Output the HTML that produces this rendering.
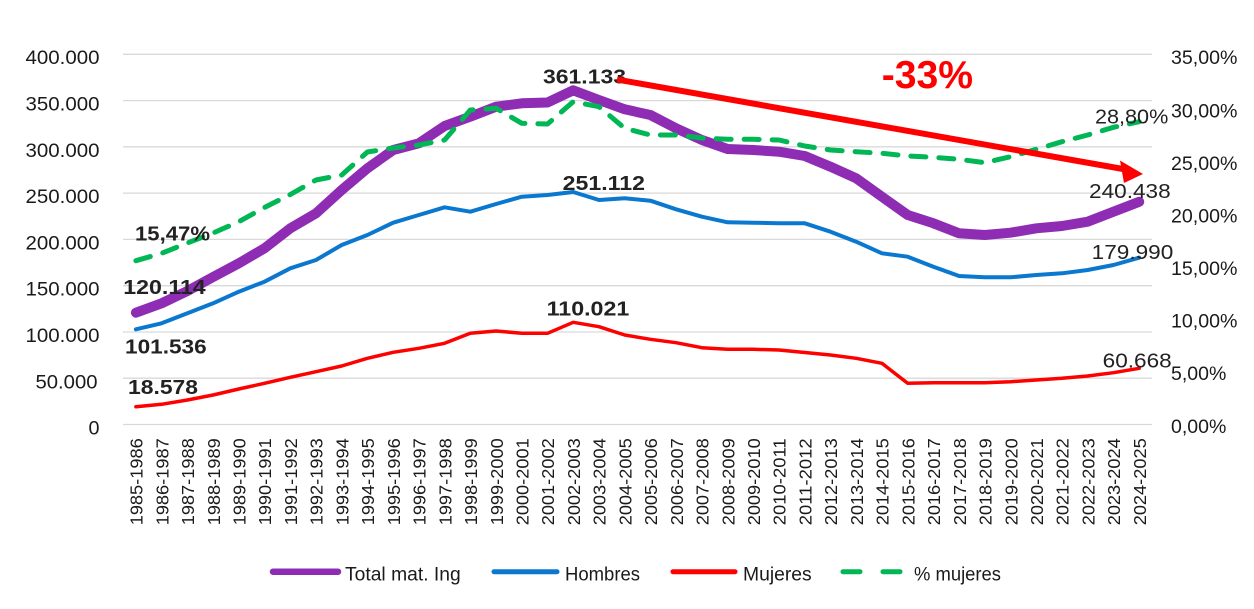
<!DOCTYPE html>
<html><head><meta charset="utf-8"><style>
html,body{margin:0;padding:0;background:#fff;}
svg{display:block;font-family:"Liberation Sans",sans-serif;}
</style></head><body>
<svg width="1254" height="609" viewBox="0 0 1254 609" xmlns="http://www.w3.org/2000/svg">
<rect width="1254" height="609" fill="#fff"/>
<g stroke="#d9d9d9" stroke-width="1.3">
<line x1="123" y1="54.3" x2="1152" y2="54.3"/>
<line x1="123" y1="100.6" x2="1152" y2="100.6"/>
<line x1="123" y1="146.8" x2="1152" y2="146.8"/>
<line x1="123" y1="193.1" x2="1152" y2="193.1"/>
<line x1="123" y1="239.4" x2="1152" y2="239.4"/>
<line x1="123" y1="285.7" x2="1152" y2="285.7"/>
<line x1="123" y1="332" x2="1152" y2="332"/>
<line x1="123" y1="378.2" x2="1152" y2="378.2"/>
<line x1="123" y1="424.5" x2="1152" y2="424.5"/>
</g>
<g font-size="19" fill="#1a1a1a" text-anchor="end">
<text x="99.5" y="64" textLength="74" lengthAdjust="spacingAndGlyphs">400.000</text>
<text x="99.5" y="110.5" textLength="74" lengthAdjust="spacingAndGlyphs">350.000</text>
<text x="99.5" y="157" textLength="74" lengthAdjust="spacingAndGlyphs">300.000</text>
<text x="99.5" y="203" textLength="74" lengthAdjust="spacingAndGlyphs">250.000</text>
<text x="99.5" y="249.5" textLength="74" lengthAdjust="spacingAndGlyphs">200.000</text>
<text x="99.5" y="295.5" textLength="74" lengthAdjust="spacingAndGlyphs">150.000</text>
<text x="99.5" y="342" textLength="74" lengthAdjust="spacingAndGlyphs">100.000</text>
<text x="97.5" y="388.5" textLength="62" lengthAdjust="spacingAndGlyphs">50.000</text>
<text x="99.5" y="434.5" textLength="11" lengthAdjust="spacingAndGlyphs">0</text>
</g>
<g font-size="19" fill="#1a1a1a">
<text x="1171" y="64" textLength="66.5" lengthAdjust="spacingAndGlyphs">35,00%</text>
<text x="1171" y="117.5" textLength="66.5" lengthAdjust="spacingAndGlyphs">30,00%</text>
<text x="1171" y="170" textLength="66.5" lengthAdjust="spacingAndGlyphs">25,00%</text>
<text x="1171" y="222.5" textLength="66.5" lengthAdjust="spacingAndGlyphs">20,00%</text>
<text x="1171" y="275" textLength="66.5" lengthAdjust="spacingAndGlyphs">15,00%</text>
<text x="1171" y="327.5" textLength="66.5" lengthAdjust="spacingAndGlyphs">10,00%</text>
<text x="1171" y="380" textLength="55.3" lengthAdjust="spacingAndGlyphs">5,00%</text>
<text x="1171" y="433" textLength="55.3" lengthAdjust="spacingAndGlyphs">0,00%</text>
</g>
<g font-size="17.5" fill="#1a1a1a" text-anchor="end">
<text transform="translate(142.6,438.3) rotate(-90)" textLength="87" lengthAdjust="spacingAndGlyphs">1985-1986</text>
<text transform="translate(168.3,438.3) rotate(-90)" textLength="87" lengthAdjust="spacingAndGlyphs">1986-1987</text>
<text transform="translate(194.1,438.3) rotate(-90)" textLength="87" lengthAdjust="spacingAndGlyphs">1987-1988</text>
<text transform="translate(219.8,438.3) rotate(-90)" textLength="87" lengthAdjust="spacingAndGlyphs">1988-1989</text>
<text transform="translate(245.5,438.3) rotate(-90)" textLength="87" lengthAdjust="spacingAndGlyphs">1989-1990</text>
<text transform="translate(271.2,438.3) rotate(-90)" textLength="87" lengthAdjust="spacingAndGlyphs">1990-1991</text>
<text transform="translate(297.0,438.3) rotate(-90)" textLength="87" lengthAdjust="spacingAndGlyphs">1991-1992</text>
<text transform="translate(322.7,438.3) rotate(-90)" textLength="87" lengthAdjust="spacingAndGlyphs">1992-1993</text>
<text transform="translate(348.4,438.3) rotate(-90)" textLength="87" lengthAdjust="spacingAndGlyphs">1993-1994</text>
<text transform="translate(374.1,438.3) rotate(-90)" textLength="87" lengthAdjust="spacingAndGlyphs">1994-1995</text>
<text transform="translate(399.9,438.3) rotate(-90)" textLength="87" lengthAdjust="spacingAndGlyphs">1995-1996</text>
<text transform="translate(425.6,438.3) rotate(-90)" textLength="87" lengthAdjust="spacingAndGlyphs">1996-1997</text>
<text transform="translate(451.3,438.3) rotate(-90)" textLength="87" lengthAdjust="spacingAndGlyphs">1997-1998</text>
<text transform="translate(477.0,438.3) rotate(-90)" textLength="87" lengthAdjust="spacingAndGlyphs">1998-1999</text>
<text transform="translate(502.8,438.3) rotate(-90)" textLength="87" lengthAdjust="spacingAndGlyphs">1999-2000</text>
<text transform="translate(528.5,438.3) rotate(-90)" textLength="87" lengthAdjust="spacingAndGlyphs">2000-2001</text>
<text transform="translate(554.2,438.3) rotate(-90)" textLength="87" lengthAdjust="spacingAndGlyphs">2001-2002</text>
<text transform="translate(579.9,438.3) rotate(-90)" textLength="87" lengthAdjust="spacingAndGlyphs">2002-2003</text>
<text transform="translate(605.7,438.3) rotate(-90)" textLength="87" lengthAdjust="spacingAndGlyphs">2003-2004</text>
<text transform="translate(631.4,438.3) rotate(-90)" textLength="87" lengthAdjust="spacingAndGlyphs">2004-2005</text>
<text transform="translate(657.1,438.3) rotate(-90)" textLength="87" lengthAdjust="spacingAndGlyphs">2005-2006</text>
<text transform="translate(682.8,438.3) rotate(-90)" textLength="87" lengthAdjust="spacingAndGlyphs">2006-2007</text>
<text transform="translate(708.6,438.3) rotate(-90)" textLength="87" lengthAdjust="spacingAndGlyphs">2007-2008</text>
<text transform="translate(734.3,438.3) rotate(-90)" textLength="87" lengthAdjust="spacingAndGlyphs">2008-2009</text>
<text transform="translate(760.0,438.3) rotate(-90)" textLength="87" lengthAdjust="spacingAndGlyphs">2009-2010</text>
<text transform="translate(785.7,438.3) rotate(-90)" textLength="87" lengthAdjust="spacingAndGlyphs">2010-2011</text>
<text transform="translate(811.5,438.3) rotate(-90)" textLength="87" lengthAdjust="spacingAndGlyphs">2011-2012</text>
<text transform="translate(837.2,438.3) rotate(-90)" textLength="87" lengthAdjust="spacingAndGlyphs">2012-2013</text>
<text transform="translate(862.9,438.3) rotate(-90)" textLength="87" lengthAdjust="spacingAndGlyphs">2013-2014</text>
<text transform="translate(888.6,438.3) rotate(-90)" textLength="87" lengthAdjust="spacingAndGlyphs">2014-2015</text>
<text transform="translate(914.4,438.3) rotate(-90)" textLength="87" lengthAdjust="spacingAndGlyphs">2015-2016</text>
<text transform="translate(940.1,438.3) rotate(-90)" textLength="87" lengthAdjust="spacingAndGlyphs">2016-2017</text>
<text transform="translate(965.8,438.3) rotate(-90)" textLength="87" lengthAdjust="spacingAndGlyphs">2017-2018</text>
<text transform="translate(991.5,438.3) rotate(-90)" textLength="87" lengthAdjust="spacingAndGlyphs">2018-2019</text>
<text transform="translate(1017.3,438.3) rotate(-90)" textLength="87" lengthAdjust="spacingAndGlyphs">2019-2020</text>
<text transform="translate(1043.0,438.3) rotate(-90)" textLength="87" lengthAdjust="spacingAndGlyphs">2020-2021</text>
<text transform="translate(1068.7,438.3) rotate(-90)" textLength="87" lengthAdjust="spacingAndGlyphs">2021-2022</text>
<text transform="translate(1094.4,438.3) rotate(-90)" textLength="87" lengthAdjust="spacingAndGlyphs">2022-2023</text>
<text transform="translate(1120.2,438.3) rotate(-90)" textLength="87" lengthAdjust="spacingAndGlyphs">2023-2024</text>
<text transform="translate(1145.9,438.3) rotate(-90)" textLength="87" lengthAdjust="spacingAndGlyphs">2024-2025</text>
</g>
<g fill="none" stroke-linejoin="round" stroke-linecap="round">
<polyline stroke="#8E2DB4" stroke-width="10" points="135.9,312.7 161.6,303.3 187.4,291 213.1,277 238.8,263.3 264.5,248.3 290.3,228.3 316,213.3 341.7,190 367.4,168.3 393.2,150 418.9,143.3 444.6,126 470.3,116.7 496.1,106.7 521.8,103.3 547.5,102.5 573.2,90.3 599,100 624.7,109.3 650.4,115 676.1,128.3 701.9,140 727.6,149 753.3,150 779,151.7 804.8,156 830.5,166.7 856.2,178.3 881.9,196.7 907.7,215 933.4,223.3 959.1,233.3 984.8,235 1010.6,232.7 1036.3,228.3 1062,226 1087.7,221.7 1113.5,211.7 1139.2,201.8"/>
<polyline stroke="#0B78CF" stroke-width="4" points="135.9,329.3 161.6,323.3 187.4,313.3 213.1,303.3 238.8,291.7 264.5,281.7 290.3,268.3 316,260 341.7,245 367.4,235 393.2,222.7 418.9,215 444.6,207.3 470.3,211.7 496.1,204 521.8,196.7 547.5,195 573.2,192 599,200 624.7,198.3 650.4,200.7 676.1,209.3 701.9,216.7 727.6,222.3 753.3,222.7 779,223.3 804.8,223.3 830.5,231.7 856.2,241.7 881.9,253.3 907.7,256.7 933.4,266.7 959.1,276 984.8,277.3 1010.6,277.3 1036.3,275 1062,273.3 1087.7,270 1113.5,265 1139.2,257.7"/>
<polyline stroke="#FF0000" stroke-width="3.5" points="135.9,406.7 161.6,404.3 187.4,400 213.1,395 238.8,389 264.5,383.3 290.3,377.3 316,371.7 341.7,366 367.4,358.3 393.2,352.3 418.9,348.3 444.6,343.3 470.3,333.3 496.1,331 521.8,333.3 547.5,333.3 573.2,322.3 599,326.7 624.7,335 650.4,339.3 676.1,342.7 701.9,347.7 727.6,349.3 753.3,349.3 779,350 804.8,352.5 830.5,355 856.2,358.3 881.9,363.3 907.7,383.3 933.4,382.7 959.1,382.7 984.8,382.7 1010.6,381.7 1036.3,380 1062,378.3 1087.7,376 1113.5,372.7 1139.2,368.3"/>
<polyline stroke="#00B655" stroke-width="5" stroke-dasharray="15 13" points="135.9,260.7 161.6,253.3 187.4,243 213.1,233 238.8,221.7 264.5,207.5 290.3,194.5 316,180 341.7,175 367.4,152 393.2,148 418.9,145 444.6,140 470.3,110 496.1,108.3 521.8,123.3 547.5,124 573.2,101.7 599,106.7 624.7,128.3 650.4,135 676.1,135 701.9,138 727.6,139.3 753.3,139.3 779,140 804.8,146 830.5,150 856.2,151.7 881.9,153.3 907.7,156 933.4,157.3 959.1,159.3 984.8,162.7 1010.6,156.7 1036.3,149.3 1062,141.7 1087.7,135 1113.5,127.3 1139.2,121.7"/>
</g>
<g font-size="20" fill="#222" font-weight="bold">
<text x="135" y="240.5" textLength="75" lengthAdjust="spacingAndGlyphs">15,47%</text>
<text x="123.3" y="294" textLength="82.4" lengthAdjust="spacingAndGlyphs">120.114</text>
<text x="125" y="353.3" textLength="81.7" lengthAdjust="spacingAndGlyphs">101.536</text>
<text x="128" y="394" textLength="70" lengthAdjust="spacingAndGlyphs">18.578</text>
<text x="543" y="83.3" textLength="83" lengthAdjust="spacingAndGlyphs">361.133</text>
<text x="562.7" y="190" textLength="82.3" lengthAdjust="spacingAndGlyphs">251.112</text>
<text x="546.7" y="315.6" textLength="82.6" lengthAdjust="spacingAndGlyphs">110.021</text>
</g>
<g font-size="20" fill="#222">
<text x="1095" y="123.3" textLength="73.3" lengthAdjust="spacingAndGlyphs">28,80%</text>
<text x="1089" y="198" textLength="81.7" lengthAdjust="spacingAndGlyphs">240.438</text>
<text x="1091.7" y="259" textLength="81.6" lengthAdjust="spacingAndGlyphs">179.990</text>
<text x="1102.7" y="367.3" textLength="69" lengthAdjust="spacingAndGlyphs">60.668</text>
</g>
<line x1="617" y1="79.5" x2="1123" y2="169" stroke="#FF0000" stroke-width="6"/>
<polygon points="1120,160.5 1143,174 1124,183" fill="#FF0000"/>
<text x="881.7" y="88" font-size="39" font-weight="bold" fill="#FF0000" textLength="91.3" lengthAdjust="spacingAndGlyphs">-33%</text>
<g stroke-linecap="round">
<line x1="273" y1="571.7" x2="338" y2="571.7" stroke="#8E2DB4" stroke-width="6.5"/>
<line x1="494" y1="571.7" x2="557" y2="571.7" stroke="#0B78CF" stroke-width="5"/>
<line x1="673" y1="571.7" x2="735" y2="571.7" stroke="#FF0000" stroke-width="5"/>
<line x1="843" y1="571.7" x2="860" y2="571.7" stroke="#00B655" stroke-width="5"/>
<line x1="883" y1="571.7" x2="900" y2="571.7" stroke="#00B655" stroke-width="5"/>
</g>
<g font-size="19" fill="#1a1a1a">
<text x="345" y="580.5" textLength="115.7" lengthAdjust="spacingAndGlyphs">Total mat. Ing</text>
<text x="565" y="580.5" textLength="75" lengthAdjust="spacingAndGlyphs">Hombres</text>
<text x="743" y="580.5" textLength="68.7" lengthAdjust="spacingAndGlyphs">Mujeres</text>
<text x="914" y="580.5" textLength="87" lengthAdjust="spacingAndGlyphs">% mujeres</text>
</g>
</svg>
</body></html>
